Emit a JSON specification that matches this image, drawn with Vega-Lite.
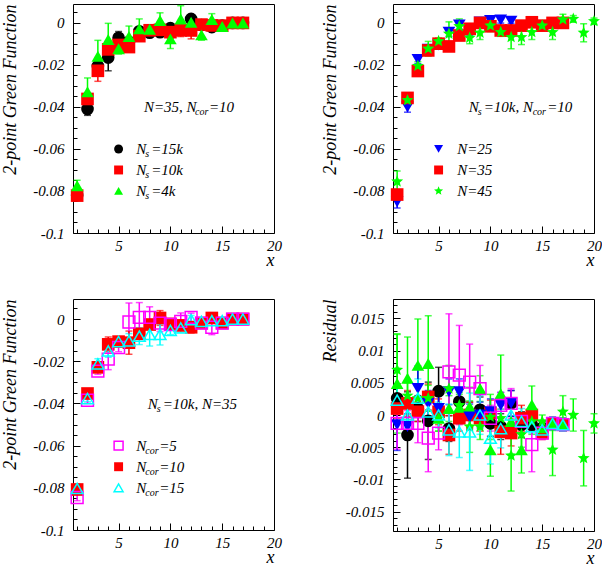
{
"$schema":"https://vega.github.io/schema/vega-lite/v6.json",
"padding":{"left":0,"top":3,"right":0,"bottom":0},
"background":"white",
"config":{
 "view":{"stroke":"black","strokeWidth":1},
 "font":"Liberation Serif",
 "axis":{"domain":false,"grid":false,"labelFont":"Liberation Serif","labelFontStyle":"italic","labelFontSize":15,"labelColor":"black","titleFont":"Liberation Serif","titleFontStyle":"italic","titleFontWeight":"normal","titleFontSize":18,"titleColor":"black","tickColor":"black","tickWidth":1,"labelOverlap":false,"labelFlush":false},
 "text":{"font":"Liberation Serif","fontStyle":"italic","fontSize":15,"color":"black"}
},
"datasets":{
"tl":[
{"s":"Ns15k","x":1,"y":-0.082,"e":0.002},{"s":"Ns15k","x":2,"y":-0.041,"e":0.003},{"s":"Ns15k","x":3,"y":-0.0205,"e":0.002},{"s":"Ns15k","x":4,"y":-0.0165,"e":0.0063},{"s":"Ns15k","x":5,"y":-0.0071,"e":0.003},{"s":"Ns15k","x":6,"y":-0.009,"e":0.002},{"s":"Ns15k","x":7,"y":-0.004,"e":0.002},{"s":"Ns15k","x":8,"y":-0.0047,"e":0.002},{"s":"Ns15k","x":9,"y":-0.0044,"e":0.002},{"s":"Ns15k","x":10,"y":-0.0025,"e":0.002},{"s":"Ns15k","x":11,"y":-0.002,"e":0.002},{"s":"Ns15k","x":12,"y":0.0019,"e":0.0015},{"s":"Ns15k","x":13,"y":-0.001,"e":0.001},{"s":"Ns15k","x":14,"y":-0.002,"e":0.001},{"s":"Ns15k","x":15,"y":-0.0013,"e":0.001},{"s":"Ns15k","x":16,"y":0,"e":0.0005},{"s":"Ns15k","x":17,"y":0,"e":0.0005},
{"s":"Ns10k","x":1,"y":-0.0822,"e":0.0015},{"s":"Ns10k","x":2,"y":-0.0362,"e":0.0015},{"s":"Ns10k","x":3,"y":-0.0228,"e":0.005},{"s":"Ns10k","x":4,"y":-0.0126,"e":0.0028},{"s":"Ns10k","x":5,"y":-0.0105,"e":0.002},{"s":"Ns10k","x":6,"y":-0.0115,"e":0.002},{"s":"Ns10k","x":7,"y":-0.0063,"e":0.002},{"s":"Ns10k","x":8,"y":-0.0035,"e":0.002},{"s":"Ns10k","x":9,"y":-0.0033,"e":0.002},{"s":"Ns10k","x":10,"y":-0.0044,"e":0.003},{"s":"Ns10k","x":11,"y":-0.0035,"e":0.003},{"s":"Ns10k","x":12,"y":-0.0036,"e":0.004},{"s":"Ns10k","x":13,"y":-0.0008,"e":0.002},{"s":"Ns10k","x":14,"y":-0.0012,"e":0.0015},{"s":"Ns10k","x":15,"y":-0.0013,"e":0.001},{"s":"Ns10k","x":16,"y":0,"e":0.0005},{"s":"Ns10k","x":17,"y":0,"e":0.0005},
{"s":"Ns4k","x":1,"y":-0.0775,"e":0.0026},{"s":"Ns4k","x":2,"y":-0.0328,"e":0.0066},{"s":"Ns4k","x":3,"y":-0.0159,"e":0.0076},{"s":"Ns4k","x":4,"y":-0.0079,"e":0.0077},{"s":"Ns4k","x":5,"y":-0.0123,"e":0.0025},{"s":"Ns4k","x":6,"y":-0.0065,"e":0.005},{"s":"Ns4k","x":7,"y":-0.0028,"e":0.0047},{"s":"Ns4k","x":8,"y":-0.003,"e":0.002},{"s":"Ns4k","x":9,"y":0.0011,"e":0.0037},{"s":"Ns4k","x":10,"y":-0.0076,"e":0.0046},{"s":"Ns4k","x":11,"y":0.0019,"e":0.0063},{"s":"Ns4k","x":12,"y":0.0003,"e":0.002},{"s":"Ns4k","x":13,"y":-0.0057,"e":0.0025},{"s":"Ns4k","x":14,"y":0.0016,"e":0.0028},{"s":"Ns4k","x":15,"y":-0.0017,"e":0.001},{"s":"Ns4k","x":16,"y":0,"e":0.0005},{"s":"Ns4k","x":17,"y":0,"e":0.0005}
],
"tr":[
{"s":"N25","x":1,"y":-0.0851,"e":0.003},{"s":"N25","x":2,"y":-0.04,"e":0.0025},{"s":"N25","x":3,"y":-0.0174,"e":0.002},{"s":"N25","x":4,"y":-0.0125,"e":0.002},{"s":"N25","x":5,"y":-0.0105,"e":0.0015},{"s":"N25","x":6,"y":-0.0044,"e":0.002},{"s":"N25","x":7,"y":-0.001,"e":0.002},{"s":"N25","x":8,"y":-0.004,"e":0.002},{"s":"N25","x":9,"y":0.0005,"e":0.0015},{"s":"N25","x":10,"y":0.0011,"e":0.0015},{"s":"N25","x":11,"y":0.0014,"e":0.0015},{"s":"N25","x":12,"y":0.0008,"e":0.001},
{"s":"N35","x":1,"y":-0.0817,"e":0.0015},{"s":"N35","x":2,"y":-0.0357,"e":0.0015},{"s":"N35","x":3,"y":-0.0229,"e":0.0015},{"s":"N35","x":4,"y":-0.0131,"e":0.0015},{"s":"N35","x":5,"y":-0.0099,"e":0.0015},{"s":"N35","x":6,"y":-0.0112,"e":0.002},{"s":"N35","x":7,"y":-0.006,"e":0.002},{"s":"N35","x":8,"y":-0.0028,"e":0.0015},{"s":"N35","x":9,"y":0,"e":0.0015},{"s":"N35","x":10,"y":-0.0016,"e":0.0015},{"s":"N35","x":11,"y":-0.0036,"e":0.002},{"s":"N35","x":12,"y":-0.0036,"e":0.002},{"s":"N35","x":13,"y":-0.0013,"e":0.0015},{"s":"N35","x":14,"y":0.0003,"e":0.001},{"s":"N35","x":15,"y":-0.0013,"e":0.001},{"s":"N35","x":16,"y":0,"e":0.0005},{"s":"N35","x":17,"y":0,"e":0.0005},
{"s":"N45","x":1,"y":-0.0755,"e":0.005},{"s":"N45","x":2,"y":-0.0368,"e":0.002},{"s":"N45","x":3,"y":-0.0205,"e":0.002},{"s":"N45","x":4,"y":-0.0123,"e":0.0035},{"s":"N45","x":5,"y":-0.0087,"e":0.0015},{"s":"N45","x":6,"y":-0.0052,"e":0.0057},{"s":"N45","x":7,"y":-0.0016,"e":0.0035},{"s":"N45","x":8,"y":-0.0071,"e":0.0028},{"s":"N45","x":9,"y":-0.0047,"e":0.0032},{"s":"N45","x":10,"y":-0.0013,"e":0.0028},{"s":"N45","x":11,"y":-0.0044,"e":0.002},{"s":"N45","x":12,"y":-0.0068,"e":0.0055},{"s":"N45","x":13,"y":-0.0068,"e":0.0035},{"s":"N45","x":14,"y":-0.0044,"e":0.0035},{"s":"N45","x":15,"y":-0.0013,"e":0.0015},{"s":"N45","x":16,"y":-0.0044,"e":0.0035},{"s":"N45","x":17,"y":0.0016,"e":0.0025},{"s":"N45","x":18,"y":0.0019,"e":0.0016},{"s":"N45","x":19,"y":-0.0047,"e":0.0043},{"s":"N45","x":20,"y":0.0008,"e":0.0015}
],
"bl":[
{"s":"c5","x":1,"y":-0.0846,"e":0.0015},{"s":"c5","x":2,"y":-0.0385,"e":0.0015},{"s":"c5","x":3,"y":-0.0247,"e":0.0015},{"s":"c5","x":4,"y":-0.019,"e":0.005},{"s":"c5","x":5,"y":-0.0135,"e":0.002},{"s":"c5","x":6,"y":-0.0014,"e":0.009},{"s":"c5","x":7,"y":0.0008,"e":0.007},{"s":"c5","x":8,"y":0.0008,"e":0.005},{"s":"c5","x":9,"y":-0.0019,"e":0.004},{"s":"c5","x":10,"y":-0.0026,"e":0.002},{"s":"c5","x":11,"y":-0.0011,"e":0.004},{"s":"c5","x":12,"y":0.0008,"e":0.002},{"s":"c5","x":13,"y":-0.0019,"e":0.001},{"s":"c5","x":14,"y":-0.0039,"e":0.0035},{"s":"c5","x":15,"y":-0.0019,"e":0.001},{"s":"c5","x":16,"y":0,"e":0.0005},{"s":"c5","x":17,"y":0,"e":0.0005},
{"s":"c10","x":1,"y":-0.0808,"e":0.0015},{"s":"c10","x":2,"y":-0.0353,"e":0.0015},{"s":"c10","x":3,"y":-0.0229,"e":0.0015},{"s":"c10","x":4,"y":-0.012,"e":0.0035},{"s":"c10","x":5,"y":-0.0107,"e":0.002},{"s":"c10","x":6,"y":-0.0112,"e":0.0055},{"s":"c10","x":7,"y":-0.007,"e":0.002},{"s":"c10","x":8,"y":-0.0026,"e":0.002},{"s":"c10","x":9,"y":0.0005,"e":0.0035},{"s":"c10","x":10,"y":-0.0023,"e":0.002},{"s":"c10","x":11,"y":-0.003,"e":0.002},{"s":"c10","x":12,"y":-0.0039,"e":0.0027},{"s":"c10","x":13,"y":-0.0019,"e":0.001},{"s":"c10","x":14,"y":0.0005,"e":0.001},{"s":"c10","x":15,"y":-0.0019,"e":0.001},{"s":"c10","x":16,"y":0,"e":0.0005},{"s":"c10","x":17,"y":0,"e":0.0005},
{"s":"c15","x":1,"y":-0.0803,"e":0.002},{"s":"c15","x":2,"y":-0.0377,"e":0.0015},{"s":"c15","x":3,"y":-0.0213,"e":0.0025},{"s":"c15","x":4,"y":-0.0151,"e":0.003},{"s":"c15","x":5,"y":-0.0107,"e":0.002},{"s":"c15","x":6,"y":-0.0104,"e":0.0035},{"s":"c15","x":7,"y":-0.0081,"e":0.004},{"s":"c15","x":8,"y":-0.0073,"e":0.0055},{"s":"c15","x":9,"y":-0.0073,"e":0.005},{"s":"c15","x":10,"y":-0.0054,"e":0.002},{"s":"c15","x":11,"y":-0.0042,"e":0.002},{"s":"c15","x":12,"y":-0.0003,"e":0.002},{"s":"c15","x":13,"y":-0.0011,"e":0.001},{"s":"c15","x":14,"y":-0.0008,"e":0.001},{"s":"c15","x":15,"y":-0.0008,"e":0.001},{"s":"c15","x":16,"y":0,"e":0.0005},{"s":"c15","x":17,"y":0,"e":0.0005}
],
"br":[
{"s":"Ns15k","x":1,"y":0.0026,"e":0.002},{"s":"Ns15k","x":2,"y":-0.0031,"e":0.0067},{"s":"Ns15k","x":3,"y":0.001,"e":0.002},{"s":"Ns15k","x":4,"y":-0.0009,"e":0.006},{"s":"Ns15k","x":5,"y":0.0037,"e":0.0037},{"s":"Ns15k","x":6,"y":-0.0021,"e":0.002},{"s":"Ns15k","x":7,"y":0.0021,"e":0.002},{"s":"Ns15k","x":8,"y":0,"e":0.002},{"s":"Ns15k","x":9,"y":0.0008,"e":0.002},{"s":"Ns15k","x":10,"y":-0.0013,"e":0.002},{"s":"Ns15k","x":11,"y":-0.0018,"e":0.002},{"s":"Ns15k","x":12,"y":0.0018,"e":0.002},{"s":"Ns15k","x":13,"y":-0.0015,"e":0.002},{"s":"Ns15k","x":14,"y":-0.0015,"e":0.001},{"s":"Ns15k","x":15,"y":-0.002,"e":0.001},{"s":"Ns15k","x":16,"y":-0.0013,"e":0.001},{"s":"Ns15k","x":17,"y":-0.0015,"e":0.001},
{"s":"Ns10k","x":1,"y":0.001,"e":0.0015},{"s":"Ns10k","x":2,"y":0.0018,"e":0.002},{"s":"Ns10k","x":3,"y":0.0005,"e":0.0015},{"s":"Ns10k","x":4,"y":0.0028,"e":0.002},{"s":"Ns10k","x":5,"y":0.0005,"e":0.002},{"s":"Ns10k","x":6,"y":-0.0031,"e":0.003},{"s":"Ns10k","x":7,"y":-0.0005,"e":0.002},{"s":"Ns10k","x":8,"y":0,"e":0.002},{"s":"Ns10k","x":9,"y":-0.0005,"e":0.002},{"s":"Ns10k","x":10,"y":0.0003,"e":0.002},{"s":"Ns10k","x":11,"y":-0.0026,"e":0.0035},{"s":"Ns10k","x":12,"y":-0.0028,"e":0.002},{"s":"Ns10k","x":13,"y":-0.0005,"e":0.002},{"s":"Ns10k","x":14,"y":0,"e":0.001},{"s":"Ns10k","x":15,"y":-0.0028,"e":0.001},{"s":"Ns10k","x":16,"y":-0.0013,"e":0.001},{"s":"Ns10k","x":17,"y":-0.0015,"e":0.001},
{"s":"Ns4k","x":1,"y":0.0049,"e":0.0077},{"s":"Ns4k","x":2,"y":0.0057,"e":0.0064},{"s":"Ns4k","x":3,"y":0.0077,"e":0.0072},{"s":"Ns4k","x":4,"y":0.008,"e":0.0074},{"s":"Ns4k","x":5,"y":-0.0005,"e":0.002},{"s":"Ns4k","x":6,"y":0.001,"e":0.002},{"s":"Ns4k","x":7,"y":0.0012,"e":0.002},{"s":"Ns4k","x":8,"y":0.0013,"e":0.003},{"s":"Ns4k","x":9,"y":0.0041,"e":0.002},{"s":"Ns4k","x":10,"y":-0.0054,"e":0.0041},{"s":"Ns4k","x":11,"y":0.0033,"e":0.006},{"s":"Ns4k","x":12,"y":-0.001,"e":0.002},{"s":"Ns4k","x":13,"y":-0.0054,"e":0.0036},{"s":"Ns4k","x":14,"y":0.0016,"e":0.0029},{"s":"Ns4k","x":15,"y":-0.002,"e":0.001},{"s":"Ns4k","x":16,"y":-0.0014,"e":0.001},{"s":"Ns4k","x":17,"y":-0.0015,"e":0.001},
{"s":"N25","x":1,"y":-0.0015,"e":0.004},{"s":"N25","x":2,"y":-0.0018,"e":0.002},{"s":"N25","x":3,"y":0.0041,"e":0.0035},{"s":"N25","x":4,"y":0.0018,"e":0.002},{"s":"N25","x":5,"y":0.001,"e":0.002},{"s":"N25","x":6,"y":0.0036,"e":0.002},{"s":"N25","x":7,"y":0.0036,"e":0.002},{"s":"N25","x":8,"y":-0.0003,"e":0.002},{"s":"N25","x":9,"y":0,"e":0.002},{"s":"N25","x":10,"y":0.0005,"e":0.002},{"s":"N25","x":11,"y":0.0015,"e":0.002},{"s":"N25","x":12,"y":0.0018,"e":0.002},
{"s":"N45","x":1,"y":0.007,"e":0.0055},{"s":"N45","x":2,"y":0.003,"e":0.002},{"s":"N45","x":3,"y":0.0026,"e":0.002},{"s":"N45","x":4,"y":0.0026,"e":0.002},{"s":"N45","x":5,"y":-0.0005,"e":0.002},{"s":"N45","x":6,"y":0.0041,"e":0.0036},{"s":"N45","x":7,"y":0.0015,"e":0.002},{"s":"N45","x":8,"y":-0.0018,"e":0.004},{"s":"N45","x":9,"y":-0.0018,"e":0.002},{"s":"N45","x":10,"y":-0.0003,"e":0.0035},{"s":"N45","x":11,"y":-0.0005,"e":0.002},{"s":"N45","x":12,"y":-0.0063,"e":0.0055},{"s":"N45","x":13,"y":-0.003,"e":0.002},{"s":"N45","x":14,"y":-0.001,"e":0.002},{"s":"N45","x":15,"y":-0.001,"e":0.001},{"s":"N45","x":16,"y":-0.0054,"e":0.004},{"s":"N45","x":17,"y":0.0005,"e":0.0025},{"s":"N45","x":18,"y":0,"e":0.0025},{"s":"N45","x":19,"y":-0.0067,"e":0.0043},{"s":"N45","x":20,"y":-0.0013,"e":0.0015},
{"s":"c5","x":1,"y":-0.0013,"e":0.004},{"s":"c5","x":2,"y":-0.0013,"e":0.002},{"s":"c5","x":3,"y":-0.0013,"e":0.003},{"s":"c5","x":4,"y":-0.0036,"e":0.0052},{"s":"c5","x":5,"y":-0.0028,"e":0.0026},{"s":"c5","x":6,"y":0.0067,"e":0.009},{"s":"c5","x":7,"y":0.0062,"e":0.0077},{"s":"c5","x":8,"y":0.0051,"e":0.0059},{"s":"c5","x":9,"y":0.0041,"e":0.0036},{"s":"c5","x":10,"y":-0.0005,"e":0.002},{"s":"c5","x":11,"y":0.0015,"e":0.002},{"s":"c5","x":12,"y":0.0018,"e":0.0023},{"s":"c5","x":13,"y":-0.001,"e":0.001},{"s":"c5","x":14,"y":-0.0046,"e":0.0042},{"s":"c5","x":15,"y":-0.0028,"e":0.001},{"s":"c5","x":16,"y":-0.0013,"e":0.001},{"s":"c5","x":17,"y":-0.0015,"e":0.001},
{"s":"c15","x":1,"y":0.0023,"e":0.002},{"s":"c15","x":2,"y":0,"e":0.002},{"s":"c15","x":3,"y":0.0026,"e":0.003},{"s":"c15","x":4,"y":0.0005,"e":0.002},{"s":"c15","x":5,"y":0,"e":0.002},{"s":"c15","x":6,"y":-0.0023,"e":0.004},{"s":"c15","x":7,"y":-0.0026,"e":0.004},{"s":"c15","x":8,"y":-0.0026,"e":0.006},{"s":"c15","x":9,"y":0,"e":0.003},{"s":"c15","x":10,"y":-0.0036,"e":0.004},{"s":"c15","x":11,"y":-0.0021,"e":0.003},{"s":"c15","x":12,"y":0,"e":0.002},{"s":"c15","x":13,"y":-0.001,"e":0.002},{"s":"c15","x":14,"y":-0.0018,"e":0.001},{"s":"c15","x":15,"y":-0.0023,"e":0.001},{"s":"c15","x":16,"y":-0.0013,"e":0.001},{"s":"c15","x":17,"y":-0.0015,"e":0.001}
]
},
"spacing":21,
"resolve":{"scale":{"x":"independent","y":"independent"}},
"vconcat":[
{"hconcat":[
 {"width":201,"height":229,"resolve":{"axis":{"x":"independent","y":"independent"}},
  "layer":[
   {"data":{"name":"tl"},
    "encoding":{
     "x":{"field":"x","type":"quantitative","scale":{"domain":[0.6,20],"nice":false,"zero":false},"axis":{"title":"x","titleAnchor":"end","titleY":32,"titleBaseline":"alphabetic","values":[1,2,3,4,5,6,7,8,9,10,11,12,13,14,15,16,17,18,19,20],"format":"d","labelExpr":"datum.value % 5 === 0 ? datum.label : ''","labelFont":"Liberation Serif","tickSize":-7,"labelPadding":12,"labelAngle":0,"encoding":{"ticks":{"y2":{"condition":{"test":"datum.value % 5 === 0","value":-7},"value":-4}}}}},
     "y":{"field":"y","type":"quantitative","scale":{"domain":[-0.1,0.009],"nice":false,"zero":false},"axis":{"title":"2-point Green Function","titleAnchor":"end","titleX":-63,"titleBaseline":"middle","values":[-0.1,-0.095,-0.09,-0.085,-0.08,-0.075,-0.07,-0.065,-0.06,-0.055,-0.05,-0.045,-0.04,-0.035,-0.03,-0.025,-0.02,-0.015,-0.01,-0.005,0,0.005],"labelExpr":"abs(datum.value*50-round(datum.value*50))<1e-6 ? replace(format(datum.value,'~g'),'\u2212','-') : ''","labelFont":"Liberation Serif","tickSize":-7,"labelPadding":16,"encoding":{"ticks":{"x2":{"condition":{"test":"abs(datum.value*50-round(datum.value*50))<1e-6","value":7},"value":4}}}}}
    },
    "layer":[
     {"mark":{"type":"errorbar","thickness":1.5,"ticks":{"size":7}},"encoding":{"yError":{"field":"e"},"color":{"field":"s","type":"nominal","scale":{"domain":["Ns15k","Ns10k","Ns4k","N25","N35","N45","c5","c10","c15"],"range":["#000000","#ff0000","#00ff00","#0000ff","#ff0000","#00ff00","#ff00ff","#ff0000","#00ffff"]},"legend":null}}},
     {"mark":{"type":"point","filled":true,"opacity":1,"size":160},"encoding":{"color":{"field":"s","type":"nominal","scale":{"domain":["Ns15k","Ns10k","Ns4k","N25","N35","N45","c5","c10","c15"],"range":["#000000","#ff0000","#00ff00","#0000ff","#ff0000","#00ff00","#ff00ff","#ff0000","#00ffff"]},"legend":null},"shape":{"field":"s","type":"nominal","scale":{"domain":["Ns15k","Ns10k","Ns4k","N25","N35","N45","c5","c10","c15"],"range":["circle","square","triangle-up","triangle-down","square","M0,-1L0.26,-0.36L0.95,-0.31L0.42,0.14L0.59,0.81L0,0.44L-0.59,0.81L-0.42,0.14L-0.95,-0.31L-0.26,-0.36Z","square","square","triangle-up"]},"legend":null}}}
    ]},
   {"data":{"values":[{}]},"mark":{"type":"text","text":"N=35, N","align":"left","baseline":"alphabetic"},"encoding":{"x":{"datum":7.45,"axis":null},"y":{"datum":-0.0424,"axis":null}}},
   {"data":{"values":[{}]},"mark":{"type":"text","text":"cor","align":"left","baseline":"alphabetic","fontSize":10,"dx":51,"dy":3.5},"encoding":{"x":{"datum":7.45,"axis":null},"y":{"datum":-0.0424,"axis":null}}},
   {"data":{"values":[{}]},"mark":{"type":"text","text":"=10","align":"left","baseline":"alphabetic","dx":65},"encoding":{"x":{"datum":7.45,"axis":null},"y":{"datum":-0.0424,"axis":null}}},
   {"data":{"values":[{}]},"mark":{"type":"point","filled":true,"opacity":1,"size":80,"shape":"circle","color":"#000000"},"encoding":{"x":{"datum":5,"axis":null},"y":{"datum":-0.06,"axis":null}}},
   {"data":{"values":[{}]},"mark":{"type":"point","filled":true,"opacity":1,"size":80,"shape":"square","color":"#ff0000"},"encoding":{"x":{"datum":5,"axis":null},"y":{"datum":-0.07,"axis":null}}},
   {"data":{"values":[{}]},"mark":{"type":"point","filled":true,"opacity":1,"size":80,"shape":"triangle-up","color":"#00ff00"},"encoding":{"x":{"datum":5,"axis":null},"y":{"datum":-0.08,"axis":null}}},
   {"data":{"values":[{}]},"mark":{"type":"text","text":"N","align":"left","baseline":"alphabetic","dy":5},"encoding":{"x":{"datum":6.7,"axis":null},"y":{"datum":-0.06,"axis":null}}},
   {"data":{"values":[{}]},"mark":{"type":"text","text":"s","align":"left","baseline":"alphabetic","fontSize":10,"dx":9,"dy":8},"encoding":{"x":{"datum":6.7,"axis":null},"y":{"datum":-0.06,"axis":null}}},
   {"data":{"values":[{}]},"mark":{"type":"text","text":"=15k","align":"left","baseline":"alphabetic","dx":15,"dy":5},"encoding":{"x":{"datum":6.7,"axis":null},"y":{"datum":-0.06,"axis":null}}},
   {"data":{"values":[{}]},"mark":{"type":"text","text":"N","align":"left","baseline":"alphabetic","dy":5},"encoding":{"x":{"datum":6.7,"axis":null},"y":{"datum":-0.07,"axis":null}}},
   {"data":{"values":[{}]},"mark":{"type":"text","text":"s","align":"left","baseline":"alphabetic","fontSize":10,"dx":9,"dy":8},"encoding":{"x":{"datum":6.7,"axis":null},"y":{"datum":-0.07,"axis":null}}},
   {"data":{"values":[{}]},"mark":{"type":"text","text":"=10k","align":"left","baseline":"alphabetic","dx":15,"dy":5},"encoding":{"x":{"datum":6.7,"axis":null},"y":{"datum":-0.07,"axis":null}}},
   {"data":{"values":[{}]},"mark":{"type":"text","text":"N","align":"left","baseline":"alphabetic","dy":5},"encoding":{"x":{"datum":6.7,"axis":null},"y":{"datum":-0.08,"axis":null}}},
   {"data":{"values":[{}]},"mark":{"type":"text","text":"s","align":"left","baseline":"alphabetic","fontSize":10,"dx":9,"dy":8},"encoding":{"x":{"datum":6.7,"axis":null},"y":{"datum":-0.08,"axis":null}}},
   {"data":{"values":[{}]},"mark":{"type":"text","text":"=4k","align":"left","baseline":"alphabetic","dx":15,"dy":5},"encoding":{"x":{"datum":6.7,"axis":null},"y":{"datum":-0.08,"axis":null}}}
  ]},
 {"width":201,"height":229,"resolve":{"axis":{"x":"independent","y":"independent"}},
  "layer":[
   {"data":{"name":"tr"},
    "encoding":{
     "x":{"field":"x","type":"quantitative","scale":{"domain":[0.6,20],"nice":false,"zero":false},"axis":{"title":"x","titleAnchor":"end","titleY":32,"titleBaseline":"alphabetic","values":[1,2,3,4,5,6,7,8,9,10,11,12,13,14,15,16,17,18,19,20],"format":"d","labelExpr":"datum.value % 5 === 0 ? datum.label : ''","labelFont":"Liberation Serif","tickSize":-7,"labelPadding":12,"labelAngle":0,"encoding":{"ticks":{"y2":{"condition":{"test":"datum.value % 5 === 0","value":-7},"value":-4}}}}},
     "y":{"field":"y","type":"quantitative","scale":{"domain":[-0.1,0.009],"nice":false,"zero":false},"axis":{"title":"2-point Green Function","titleAnchor":"end","titleX":-63,"titleBaseline":"middle","values":[-0.1,-0.095,-0.09,-0.085,-0.08,-0.075,-0.07,-0.065,-0.06,-0.055,-0.05,-0.045,-0.04,-0.035,-0.03,-0.025,-0.02,-0.015,-0.01,-0.005,0,0.005],"labelExpr":"abs(datum.value*50-round(datum.value*50))<1e-6 ? replace(format(datum.value,'~g'),'\u2212','-') : ''","labelFont":"Liberation Serif","tickSize":-7,"labelPadding":16,"encoding":{"ticks":{"x2":{"condition":{"test":"abs(datum.value*50-round(datum.value*50))<1e-6","value":7},"value":4}}}}}
    },
    "layer":[
     {"mark":{"type":"errorbar","thickness":1.5,"ticks":{"size":7}},"encoding":{"yError":{"field":"e"},"color":{"field":"s","type":"nominal","scale":{"domain":["Ns15k","Ns10k","Ns4k","N25","N35","N45","c5","c10","c15"],"range":["#000000","#ff0000","#00ff00","#0000ff","#ff0000","#00ff00","#ff00ff","#ff0000","#00ffff"]},"legend":null}}},
     {"mark":{"type":"point","filled":true,"opacity":1,"size":160},"encoding":{"color":{"field":"s","type":"nominal","scale":{"domain":["Ns15k","Ns10k","Ns4k","N25","N35","N45","c5","c10","c15"],"range":["#000000","#ff0000","#00ff00","#0000ff","#ff0000","#00ff00","#ff00ff","#ff0000","#00ffff"]},"legend":null},"shape":{"field":"s","type":"nominal","scale":{"domain":["Ns15k","Ns10k","Ns4k","N25","N35","N45","c5","c10","c15"],"range":["circle","square","triangle-up","triangle-down","square","M0,-1L0.26,-0.36L0.95,-0.31L0.42,0.14L0.59,0.81L0,0.44L-0.59,0.81L-0.42,0.14L-0.95,-0.31L-0.26,-0.36Z","square","square","triangle-up"]},"legend":null}}}
    ]},
   {"data":{"values":[{}]},"mark":{"type":"text","text":"N","align":"left","baseline":"alphabetic"},"encoding":{"x":{"datum":7.9,"axis":null},"y":{"datum":-0.0424,"axis":null}}},
   {"data":{"values":[{}]},"mark":{"type":"text","text":"s","align":"left","baseline":"alphabetic","fontSize":10,"dx":9,"dy":3.5},"encoding":{"x":{"datum":7.9,"axis":null},"y":{"datum":-0.0424,"axis":null}}},
   {"data":{"values":[{}]},"mark":{"type":"text","text":"=10k, N","align":"left","baseline":"alphabetic","dx":15},"encoding":{"x":{"datum":7.9,"axis":null},"y":{"datum":-0.0424,"axis":null}}},
   {"data":{"values":[{}]},"mark":{"type":"text","text":"cor","align":"left","baseline":"alphabetic","fontSize":10,"dx":64,"dy":3.5},"encoding":{"x":{"datum":7.9,"axis":null},"y":{"datum":-0.0424,"axis":null}}},
   {"data":{"values":[{}]},"mark":{"type":"text","text":"=10","align":"left","baseline":"alphabetic","dx":78.5},"encoding":{"x":{"datum":7.9,"axis":null},"y":{"datum":-0.0424,"axis":null}}},
   {"data":{"values":[{}]},"mark":{"type":"point","filled":true,"opacity":1,"size":80,"shape":"triangle-down","color":"#0000ff"},"encoding":{"x":{"datum":5,"axis":null},"y":{"datum":-0.06,"axis":null}}},
   {"data":{"values":[{}]},"mark":{"type":"point","filled":true,"opacity":1,"size":80,"shape":"square","color":"#ff0000"},"encoding":{"x":{"datum":5,"axis":null},"y":{"datum":-0.07,"axis":null}}},
   {"data":{"values":[{}]},"mark":{"type":"point","filled":true,"opacity":1,"size":90,"shape":"M0,-1L0.26,-0.36L0.95,-0.31L0.42,0.14L0.59,0.81L0,0.44L-0.59,0.81L-0.42,0.14L-0.95,-0.31L-0.26,-0.36Z","color":"#00ff00"},"encoding":{"x":{"datum":5,"axis":null},"y":{"datum":-0.08,"axis":null}}},
   {"data":{"values":[{}]},"mark":{"type":"text","text":"N=25","align":"left","baseline":"alphabetic","dy":5},"encoding":{"x":{"datum":6.8,"axis":null},"y":{"datum":-0.06,"axis":null}}},
   {"data":{"values":[{}]},"mark":{"type":"text","text":"N=35","align":"left","baseline":"alphabetic","dy":5},"encoding":{"x":{"datum":6.8,"axis":null},"y":{"datum":-0.07,"axis":null}}},
   {"data":{"values":[{}]},"mark":{"type":"text","text":"N=45","align":"left","baseline":"alphabetic","dy":5},"encoding":{"x":{"datum":6.8,"axis":null},"y":{"datum":-0.08,"axis":null}}}
  ]}
 ],"spacing":38,"resolve":{"scale":{"x":"independent","y":"independent"}}},
{"hconcat":[
 {"width":201,"height":231,"resolve":{"axis":{"x":"independent","y":"independent"}},
  "layer":[
   {"data":{"name":"bl"},
    "encoding":{
     "x":{"field":"x","type":"quantitative","scale":{"domain":[0.6,20],"nice":false,"zero":false},"axis":{"title":"x","titleAnchor":"end","titleY":32,"titleBaseline":"alphabetic","values":[1,2,3,4,5,6,7,8,9,10,11,12,13,14,15,16,17,18,19,20],"format":"d","labelExpr":"datum.value % 5 === 0 ? datum.label : ''","labelFont":"Liberation Serif","tickSize":-7,"labelPadding":12,"labelAngle":0,"encoding":{"ticks":{"y2":{"condition":{"test":"datum.value % 5 === 0","value":-7},"value":-4}}}}},
     "y":{"field":"y","type":"quantitative","scale":{"domain":[-0.1,0.0095],"nice":false,"zero":false},"axis":{"title":"2-point Green Function","titleAnchor":"end","titleX":-63,"titleBaseline":"middle","values":[-0.1,-0.095,-0.09,-0.085,-0.08,-0.075,-0.07,-0.065,-0.06,-0.055,-0.05,-0.045,-0.04,-0.035,-0.03,-0.025,-0.02,-0.015,-0.01,-0.005,0,0.005],"labelExpr":"abs(datum.value*50-round(datum.value*50))<1e-6 ? replace(format(datum.value,'~g'),'\u2212','-') : ''","labelFont":"Liberation Serif","tickSize":-7,"labelPadding":16,"encoding":{"ticks":{"x2":{"condition":{"test":"abs(datum.value*50-round(datum.value*50))<1e-6","value":7},"value":4}}}}}
    },
    "layer":[
     {"mark":{"type":"errorbar","thickness":1.5,"ticks":{"size":7}},"encoding":{"yError":{"field":"e"},"color":{"field":"s","type":"nominal","scale":{"domain":["Ns15k","Ns10k","Ns4k","N25","N35","N45","c5","c10","c15"],"range":["#000000","#ff0000","#00ff00","#0000ff","#ff0000","#00ff00","#ff00ff","#ff0000","#00ffff"]},"legend":null}}},
     {"transform":[{"filter":"datum.s != 'c5' && datum.s != 'c15'"}],"mark":{"type":"point","filled":true,"opacity":1,"size":160},"encoding":{"color":{"field":"s","type":"nominal","scale":{"domain":["Ns15k","Ns10k","Ns4k","N25","N35","N45","c5","c10","c15"],"range":["#000000","#ff0000","#00ff00","#0000ff","#ff0000","#00ff00","#ff00ff","#ff0000","#00ffff"]},"legend":null},"shape":{"field":"s","type":"nominal","scale":{"domain":["Ns15k","Ns10k","Ns4k","N25","N35","N45","c5","c10","c15"],"range":["circle","square","triangle-up","triangle-down","square","M0,-1L0.26,-0.36L0.95,-0.31L0.42,0.14L0.59,0.81L0,0.44L-0.59,0.81L-0.42,0.14L-0.95,-0.31L-0.26,-0.36Z","square","square","triangle-up"]},"legend":null}}},
     {"transform":[{"filter":"datum.s == 'c5' || datum.s == 'c15'"}],"mark":{"type":"point","filled":false,"opacity":1,"size":140,"strokeWidth":1.5},"encoding":{"color":{"field":"s","type":"nominal","scale":{"domain":["Ns15k","Ns10k","Ns4k","N25","N35","N45","c5","c10","c15"],"range":["#000000","#ff0000","#00ff00","#0000ff","#ff0000","#00ff00","#ff00ff","#ff0000","#00ffff"]},"legend":null},"shape":{"field":"s","type":"nominal","scale":{"domain":["Ns15k","Ns10k","Ns4k","N25","N35","N45","c5","c10","c15"],"range":["circle","square","triangle-up","triangle-down","square","M0,-1L0.26,-0.36L0.95,-0.31L0.42,0.14L0.59,0.81L0,0.44L-0.59,0.81L-0.42,0.14L-0.95,-0.31L-0.26,-0.36Z","square","square","triangle-up"]},"legend":null}}}
    ]},
   {"data":{"values":[{}]},"mark":{"type":"text","text":"N","align":"left","baseline":"alphabetic"},"encoding":{"x":{"datum":7.81,"axis":null},"y":{"datum":-0.0425,"axis":null}}},
   {"data":{"values":[{}]},"mark":{"type":"text","text":"s","align":"left","baseline":"alphabetic","fontSize":10,"dx":9,"dy":3.5},"encoding":{"x":{"datum":7.81,"axis":null},"y":{"datum":-0.0425,"axis":null}}},
   {"data":{"values":[{}]},"mark":{"type":"text","text":"=10k, N=35","align":"left","baseline":"alphabetic","dx":15},"encoding":{"x":{"datum":7.81,"axis":null},"y":{"datum":-0.0425,"axis":null}}},
   {"data":{"values":[{}]},"mark":{"type":"point","filled":false,"opacity":1,"size":80,"shape":"square","color":"#ff00ff","strokeWidth":1.5},"encoding":{"x":{"datum":5,"axis":null},"y":{"datum":-0.06,"axis":null}}},
   {"data":{"values":[{}]},"mark":{"type":"point","filled":true,"opacity":1,"size":80,"shape":"square","color":"#ff0000"},"encoding":{"x":{"datum":5,"axis":null},"y":{"datum":-0.07,"axis":null}}},
   {"data":{"values":[{}]},"mark":{"type":"point","filled":false,"opacity":1,"size":80,"shape":"triangle-up","color":"#00ffff","strokeWidth":1.5},"encoding":{"x":{"datum":5,"axis":null},"y":{"datum":-0.08,"axis":null}}},
   {"data":{"values":[{}]},"mark":{"type":"text","text":"N","align":"left","baseline":"alphabetic","dy":5},"encoding":{"x":{"datum":6.7,"axis":null},"y":{"datum":-0.06,"axis":null}}},
   {"data":{"values":[{}]},"mark":{"type":"text","text":"cor","align":"left","baseline":"alphabetic","fontSize":10,"dx":9,"dy":8},"encoding":{"x":{"datum":6.7,"axis":null},"y":{"datum":-0.06,"axis":null}}},
   {"data":{"values":[{}]},"mark":{"type":"text","text":"=5","align":"left","baseline":"alphabetic","dx":23,"dy":5},"encoding":{"x":{"datum":6.7,"axis":null},"y":{"datum":-0.06,"axis":null}}},
   {"data":{"values":[{}]},"mark":{"type":"text","text":"N","align":"left","baseline":"alphabetic","dy":5},"encoding":{"x":{"datum":6.7,"axis":null},"y":{"datum":-0.07,"axis":null}}},
   {"data":{"values":[{}]},"mark":{"type":"text","text":"cor","align":"left","baseline":"alphabetic","fontSize":10,"dx":9,"dy":8},"encoding":{"x":{"datum":6.7,"axis":null},"y":{"datum":-0.07,"axis":null}}},
   {"data":{"values":[{}]},"mark":{"type":"text","text":"=10","align":"left","baseline":"alphabetic","dx":23,"dy":5},"encoding":{"x":{"datum":6.7,"axis":null},"y":{"datum":-0.07,"axis":null}}},
   {"data":{"values":[{}]},"mark":{"type":"text","text":"N","align":"left","baseline":"alphabetic","dy":5},"encoding":{"x":{"datum":6.7,"axis":null},"y":{"datum":-0.08,"axis":null}}},
   {"data":{"values":[{}]},"mark":{"type":"text","text":"cor","align":"left","baseline":"alphabetic","fontSize":10,"dx":9,"dy":8},"encoding":{"x":{"datum":6.7,"axis":null},"y":{"datum":-0.08,"axis":null}}},
   {"data":{"values":[{}]},"mark":{"type":"text","text":"=15","align":"left","baseline":"alphabetic","dx":23,"dy":5},"encoding":{"x":{"datum":6.7,"axis":null},"y":{"datum":-0.08,"axis":null}}}
  ]},
 {"width":201,"height":232,
  "layer":[
   {"data":{"name":"br"},
    "encoding":{
     "x":{"field":"x","type":"quantitative","scale":{"domain":[0.6,20],"nice":false,"zero":false},"axis":{"title":"x","titleAnchor":"end","titleY":32,"titleBaseline":"alphabetic","values":[1,2,3,4,5,6,7,8,9,10,11,12,13,14,15,16,17,18,19,20],"format":"d","labelExpr":"datum.value % 5 === 0 ? datum.label : ''","labelFont":"Liberation Serif","tickSize":-7,"labelPadding":12,"labelAngle":0,"encoding":{"ticks":{"y2":{"condition":{"test":"datum.value % 5 === 0","value":-7},"value":-4}}}}},
     "y":{"field":"y","type":"quantitative","scale":{"domain":[-0.018,0.018],"nice":false,"zero":false},"axis":{"title":"Residual","titleAnchor":"end","titleX":-63,"titleBaseline":"middle","values":[-0.018,-0.017,-0.016,-0.015,-0.014,-0.013,-0.012,-0.011,-0.01,-0.009,-0.008,-0.007,-0.006,-0.005,-0.004,-0.003,-0.002,-0.001,0,0.001,0.002,0.003,0.004,0.005,0.006,0.007,0.008,0.009,0.01,0.011,0.012,0.013,0.014,0.015,0.016,0.017,0.018],"labelExpr":"abs(datum.value*200-round(datum.value*200))<1e-6 ? replace(format(datum.value,'~g'),'\u2212','-') : ''","labelFont":"Liberation Serif","tickSize":-7,"labelPadding":16,"encoding":{"ticks":{"x2":{"condition":{"test":"abs(datum.value*200-round(datum.value*200))<1e-6","value":7},"value":4}}}}}
    },
    "layer":[
     {"mark":{"type":"errorbar","thickness":1.5,"ticks":{"size":7}},"encoding":{"yError":{"field":"e"},"color":{"field":"s","type":"nominal","scale":{"domain":["Ns15k","Ns10k","Ns4k","N25","N35","N45","c5","c10","c15"],"range":["#000000","#ff0000","#00ff00","#0000ff","#ff0000","#00ff00","#ff00ff","#ff0000","#00ffff"]},"legend":null}}},
     {"transform":[{"filter":"datum.s != 'c5' && datum.s != 'c15'"}],"mark":{"type":"point","filled":true,"opacity":1,"size":160},"encoding":{"color":{"field":"s","type":"nominal","scale":{"domain":["Ns15k","Ns10k","Ns4k","N25","N35","N45","c5","c10","c15"],"range":["#000000","#ff0000","#00ff00","#0000ff","#ff0000","#00ff00","#ff00ff","#ff0000","#00ffff"]},"legend":null},"shape":{"field":"s","type":"nominal","scale":{"domain":["Ns15k","Ns10k","Ns4k","N25","N35","N45","c5","c10","c15"],"range":["circle","square","triangle-up","triangle-down","square","M0,-1L0.26,-0.36L0.95,-0.31L0.42,0.14L0.59,0.81L0,0.44L-0.59,0.81L-0.42,0.14L-0.95,-0.31L-0.26,-0.36Z","square","square","triangle-up"]},"legend":null}}},
     {"transform":[{"filter":"datum.s == 'c5' || datum.s == 'c15'"}],"mark":{"type":"point","filled":false,"opacity":1,"size":140,"strokeWidth":1.5},"encoding":{"color":{"field":"s","type":"nominal","scale":{"domain":["Ns15k","Ns10k","Ns4k","N25","N35","N45","c5","c10","c15"],"range":["#000000","#ff0000","#00ff00","#0000ff","#ff0000","#00ff00","#ff00ff","#ff0000","#00ffff"]},"legend":null},"shape":{"field":"s","type":"nominal","scale":{"domain":["Ns15k","Ns10k","Ns4k","N25","N35","N45","c5","c10","c15"],"range":["circle","square","triangle-up","triangle-down","square","M0,-1L0.26,-0.36L0.95,-0.31L0.42,0.14L0.59,0.81L0,0.44L-0.59,0.81L-0.42,0.14L-0.95,-0.31L-0.26,-0.36Z","square","square","triangle-up"]},"legend":null}}}
    ]}
  ]}
 ],"spacing":38,"resolve":{"scale":{"x":"independent","y":"independent"}}}
]
}
